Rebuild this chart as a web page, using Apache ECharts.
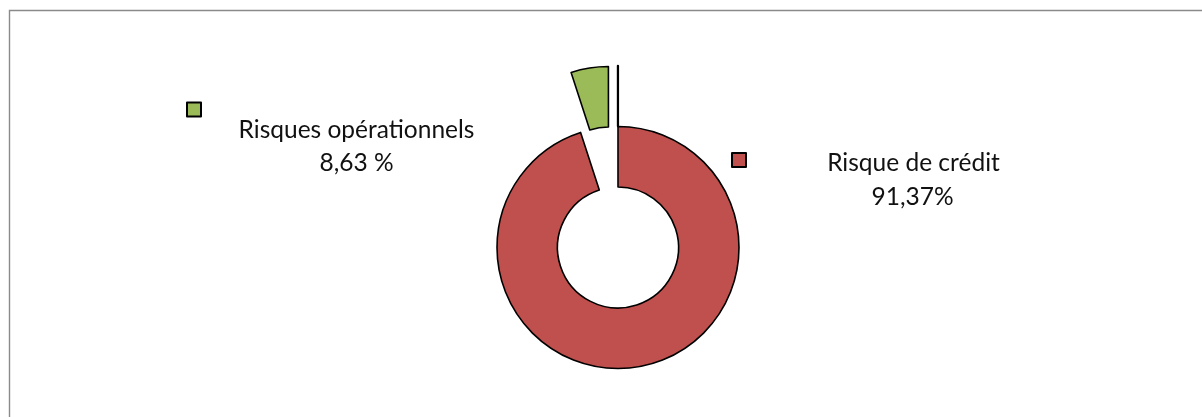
<!DOCTYPE html>
<html>
<head>
<meta charset="utf-8">
<script src="https://cdn.jsdelivr.net/npm/echarts@6/dist/echarts.min.js"></script>
<style>
html,body{margin:0;padding:0;background:#fff;}
#chart{width:1202px;height:417px;}
</style>
</head>
<body>
<div id="chart"></div>
<script>
// Data (slice sizes) and the typed labels
const categories = ['Risque de crédit', 'Risques opérationnels', ''];
const values = [95.0, 4.99, 0.01];
const labelTexts = ['91,37%', '8,63 %'];
const colors = ['#C0504D', '#9BBB59', '#FFFFFF'];

const chart = echarts.init(document.getElementById('chart'), null, {renderer: 'canvas'});
const FONT = 'Lato, "Open Sans", sans-serif';
const FS = 24.5;

const option = {
  animation: false,
  backgroundColor: '#fff',
  legend: [
    {
      data: [categories[1]], left: 186, top: 101.5, padding: 0,
      itemWidth: 14, itemHeight: 14, icon: 'rect', selectedMode: false,
      itemStyle: {borderColor: '#000', borderWidth: 2},
      formatter: () => ' ', textStyle: {fontSize: 10}
    },
    {
      data: [categories[0]], left: 731, top: 152, padding: 0,
      itemWidth: 14, itemHeight: 14, icon: 'rect', selectedMode: false,
      itemStyle: {borderColor: '#000', borderWidth: 2},
      formatter: () => ' ', textStyle: {fontSize: 10}
    }
  ],
  series: [{
    type: 'pie',
    center: [618, 247.5],
    radius: [60.5, 121],
    startAngle: 90,
    clockwise: true,
    selectedMode: 'multiple',
    selectedOffset: 60.7,
    label: {show: false},
    labelLine: {show: false},
    emphasis: {scale: false, disabled: true},
    itemStyle: {borderColor: '#000', borderWidth: 1.6},
    data: categories.map((c, i) => ({
      name: c,
      value: values[i],
      selected: i > 0,
      itemStyle: {color: colors[i], borderWidth: i === 2 ? 2.2 : 1.6}
    }))
  }],
  graphic: [
    {type: 'rect', silent: true, shape: {x: 9.5, y: 10.5, width: 1300, height: 600},
     style: {fill: 'none', stroke: '#8a8a8a', lineWidth: 1.4}},
    {type: 'text', silent: true, style: {text: categories[1], x: 356.5, y: 130, textAlign: 'center', textVerticalAlign: 'middle', fontSize: FS, fontFamily: FONT, fill: '#111'}},
    {type: 'text', silent: true, style: {text: labelTexts[1], x: 356.5, y: 163.5, textAlign: 'center', textVerticalAlign: 'middle', fontSize: FS, fontFamily: FONT, fill: '#111'}},
    {type: 'text', silent: true, style: {text: categories[0], x: 913.5, y: 163.5, textAlign: 'center', textVerticalAlign: 'middle', fontSize: FS, fontFamily: FONT, fill: '#111'}},
    {type: 'text', silent: true, style: {text: labelTexts[0], x: 912.5, y: 197, textAlign: 'center', textVerticalAlign: 'middle', fontSize: FS, fontFamily: FONT, fill: '#111'}}
  ]
};
chart.setOption(option);
</script>
</body>
</html>
